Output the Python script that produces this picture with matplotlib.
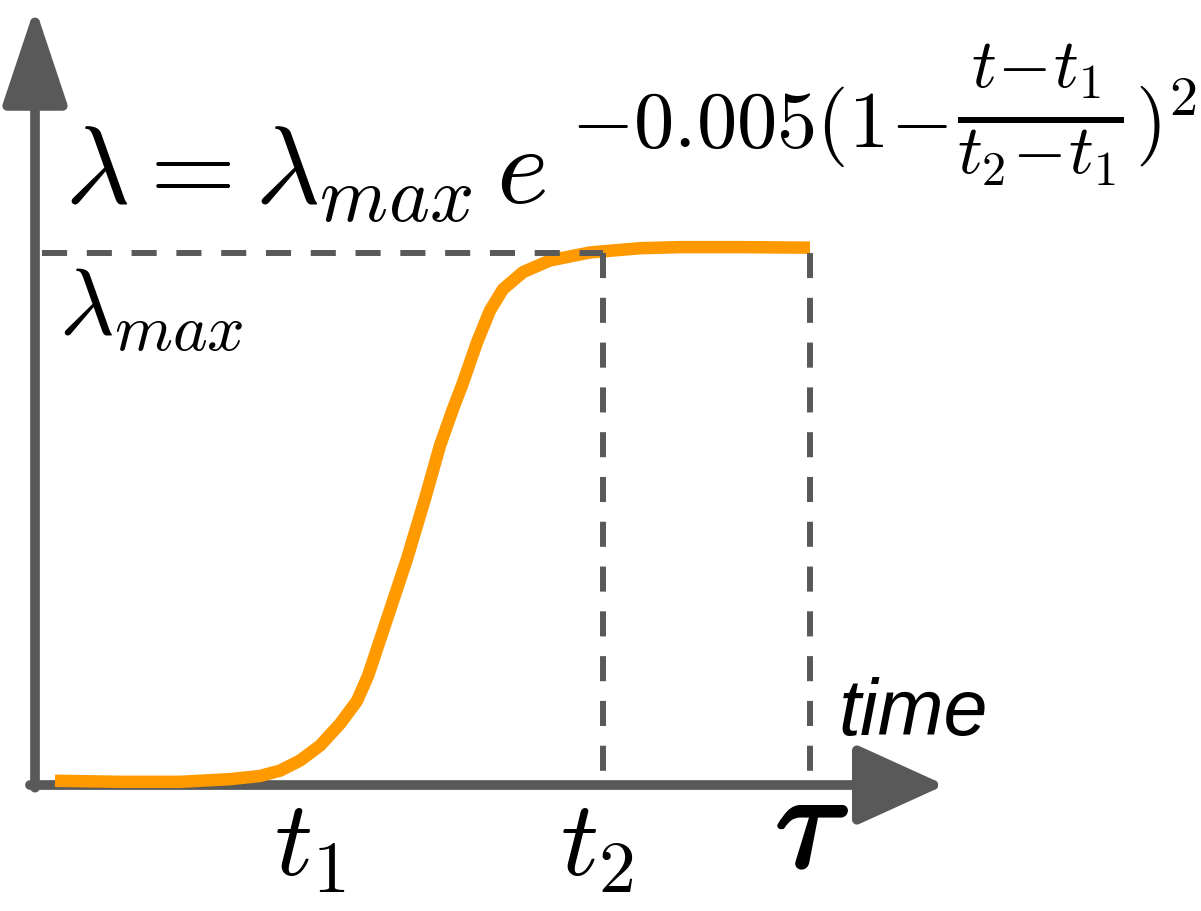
import matplotlib

matplotlib.use("Agg")

import matplotlib.pyplot as plt
import matplotlib.patheffects as pe

plt.rcParams["mathtext.fontset"] = "cm"

# curve (time, lambda / lambda_max)
time_pts = [0.20, 0.85, 1.45, 1.95, 2.25, 2.45, 2.65, 2.85, 3.05, 3.22,
            3.33, 3.52, 3.72, 3.90, 4.05, 4.18, 4.27, 4.42, 4.55, 4.68,
            4.88, 5.15, 5.55, 6.05, 6.45, 7.05, 7.75]
lam_pts = [0.008, 0.006, 0.006, 0.011, 0.017, 0.027, 0.046, 0.074, 0.115, 0.158,
           0.205, 0.312, 0.425, 0.538, 0.638, 0.707, 0.751, 0.832, 0.892, 0.932,
           0.964, 0.986, 1.001, 1.009, 1.011, 1.011, 1.010]

t1 = 2.75
t2 = 5.68
tau = 7.75
lam_max = 1.0

gray = "#595959"
orange = "#FF9900"

fig = plt.figure(figsize=(12.01, 9.12), dpi=100)
ax = fig.add_axes([0, 0, 1, 1])
ax.set_xlim(-0.35, 11.66)
ax.set_ylim(-0.2368, 1.4774)
ax.axis("off")

# axes arrows
ax.annotate("", xy=(0, 1.462), xytext=(0, -0.005),
            arrowprops=dict(arrowstyle="-|>,head_length=6.0,head_width=2.0",
                            lw=7, color=gray, shrinkA=0, shrinkB=0,
                            mutation_scale=10), zorder=1)
ax.annotate("", xy=(9.1, 0), xytext=(-0.05, 0),
            arrowprops=dict(arrowstyle="-|>,head_length=5.5,head_width=2.5",
                            lw=7, color=gray, shrinkA=0, shrinkB=0,
                            mutation_scale=10), zorder=1)

ax.plot(time_pts, lam_pts, color=orange, lw=9, solid_capstyle="butt",
        solid_joinstyle="round", zorder=2)

ls = (0, (4.2, 3.3))
ax.plot([0.07, t2], [lam_max, lam_max], color=gray, lw=4.3, ls=ls, zorder=3)
ax.plot([t2, t2], [lam_max, 0], color=gray, lw=4.3, ls=ls, zorder=3)
ax.plot([tau, tau], [lam_max, 0], color=gray, lw=4.3, ls=ls, zorder=3)

# formula: base, then the exponent in three pieces
ax.text(0.30, 1.094, r"$\lambda = \lambda_{max}\, e$", fontsize=80,
        ha="left", va="baseline")
ax.text(5.36, 1.201, r"$-0.005(1\!-$", fontsize=58, ha="left", va="baseline")
ax.text(9.22, 1.262, r"$\frac{t\!-\!t_1}{t_2\!-\!t_1}$", fontsize=71,
        ha="left", va="center")
ax.text(11.0, 1.201, r"$)^2$", fontsize=58, ha="left", va="baseline")

ax.text(0.24, 0.848, r"$\lambda_{max}$", fontsize=68, ha="left", va="baseline")
ax.text(8.03, 0.096, "time", fontsize=57, family="Liberation Sans", style="italic",
        ha="left", va="baseline")
ax.text(t1, -0.167, r"$t_1$", fontsize=76, ha="center", va="baseline")
ax.text(t2 - 0.06, -0.167, r"$t_2$", fontsize=76, ha="center", va="baseline")
ax.text(tau + 0.02, -0.154, r"$\tau$", fontsize=98, ha="center", va="baseline",
        path_effects=[pe.withStroke(linewidth=3, foreground="black")])

plt.savefig("out.png", dpi=100)
plt.close()
